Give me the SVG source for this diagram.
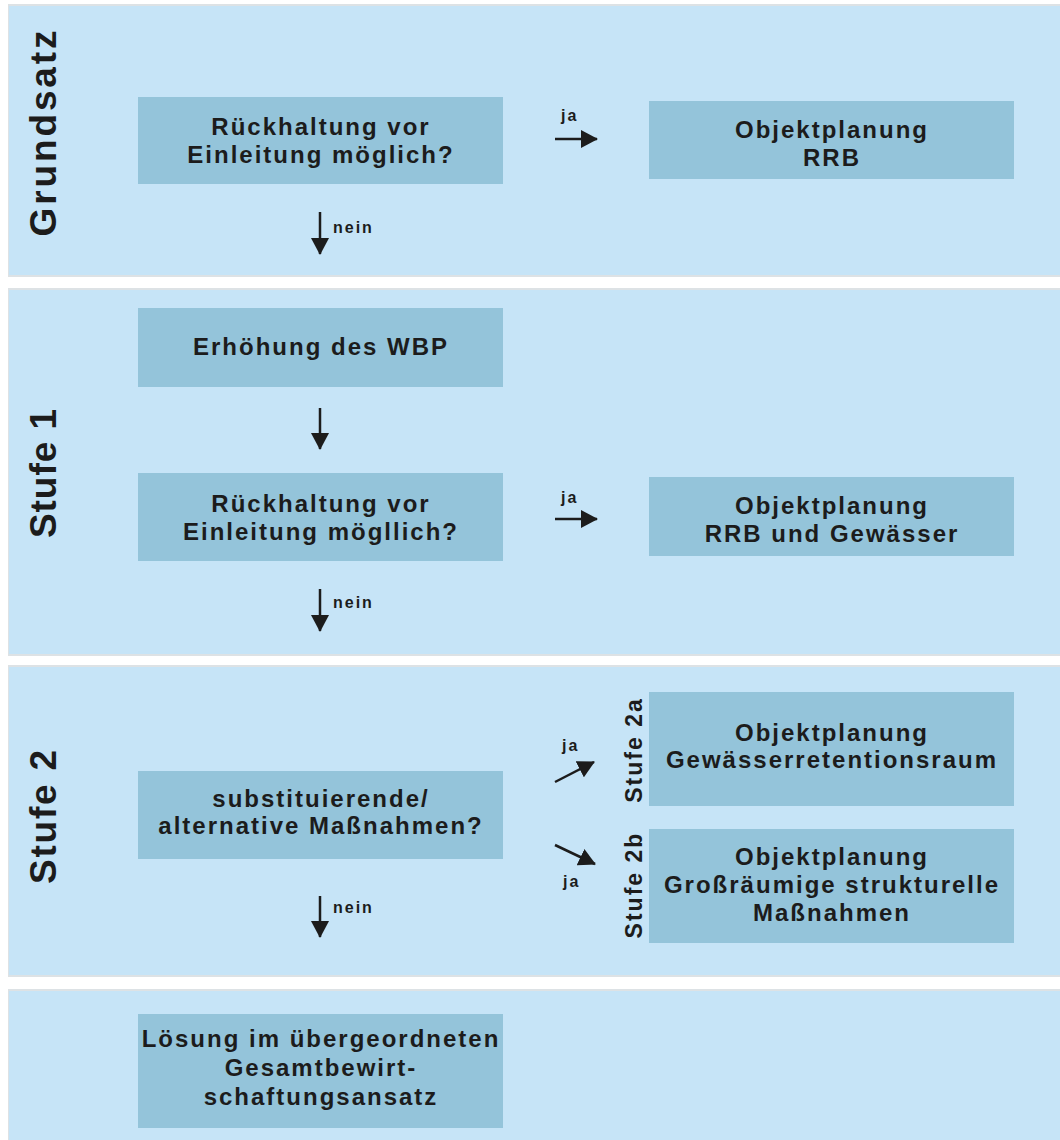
<svg xmlns="http://www.w3.org/2000/svg" width="1060" height="1140" viewBox="0 0 1060 1140">
<defs>
<style>
.panel{fill:#c6e4f7}
.shadow{fill:#dde2e5}
.box{fill:#94c4da}
.t{font-family:"Liberation Sans",Arial,sans-serif;font-weight:bold;font-size:24px;letter-spacing:2px;fill:#1c1c1c;text-anchor:middle}
.side{font-family:"Liberation Sans",Arial,sans-serif;font-weight:bold;font-size:37px;fill:#1c1c1c;text-anchor:middle}
.sub{font-family:"Liberation Sans",Arial,sans-serif;font-weight:bold;font-size:23px;letter-spacing:2px;fill:#1c1c1c;text-anchor:middle}
.lbl{font-family:"Liberation Sans",Arial,sans-serif;font-weight:bold;font-size:16px;letter-spacing:2px;fill:#1c1c1c}
.arr{stroke:#1c1c1c;stroke-width:2.5;fill:none;marker-end:url(#head)}
</style>
<marker id="head" markerUnits="userSpaceOnUse" markerWidth="17" markerHeight="18" refX="16" refY="9" orient="auto">
<path d="M0,0 L17,9 L0,18 Z" fill="#1c1c1c"/>
</marker>
</defs>
<rect width="1060" height="1140" fill="#ffffff"/>

<g id="panels">
<rect class="shadow" x="8" y="4" width="1052" height="273"/>
<rect class="panel" x="9" y="6" width="1051" height="269"/>
<rect class="shadow" x="8" y="288" width="1052" height="368"/>
<rect class="panel" x="9" y="290" width="1051" height="364"/>
<rect class="shadow" x="8" y="665" width="1052" height="312"/>
<rect class="panel" x="9" y="667" width="1051" height="308"/>
<rect class="shadow" x="8" y="989" width="1052" height="151"/>
<rect class="panel" x="9" y="991" width="1051" height="149"/>
</g>

<g id="side-labels">
<text class="side" x="56" y="133.5" transform="rotate(-90 56 133.5)" textLength="206" lengthAdjust="spacing">Grundsatz</text>
<text class="side" x="56" y="473.5" transform="rotate(-90 56 473.5)" textLength="129" lengthAdjust="spacing">Stufe 1</text>
<text class="side" x="56" y="817" transform="rotate(-90 56 817)" textLength="134" lengthAdjust="spacing">Stufe 2</text>
</g>

<g id="n-grundsatz-frage">
<rect class="box" x="138" y="97" width="365" height="87"/>
<text class="t" x="321" y="135">Rückhaltung vor</text>
<text class="t" x="321" y="163">Einleitung möglich?</text>
</g>
<g id="n-grundsatz-rrb">
<rect class="box" x="649" y="101" width="365" height="78"/>
<text class="t" x="832" y="138">Objektplanung</text>
<text class="t" x="832" y="166">RRB</text>
</g>

<g id="n-erhoehung">
<rect class="box" x="138" y="308" width="365" height="79"/>
<text class="t" x="321" y="355">Erhöhung des WBP</text>
</g>
<g id="n-stufe1-frage">
<rect class="box" x="138" y="473" width="365" height="88"/>
<text class="t" x="321" y="512">Rückhaltung vor</text>
<text class="t" x="321" y="540">Einleitung mögllich?</text>
</g>
<g id="n-stufe1-rrb">
<rect class="box" x="649" y="477" width="365" height="79"/>
<text class="t" x="832" y="514">Objektplanung</text>
<text class="t" x="832" y="542">RRB und Gewässer</text>
</g>

<g id="n-stufe2-frage">
<rect class="box" x="138" y="771" width="365" height="88"/>
<text class="t" x="321" y="807">substituierende/</text>
<text class="t" x="321" y="834">alternative Maßnahmen?</text>
</g>
<g id="n-stufe2a">
<rect class="box" x="649" y="692" width="365" height="114"/>
<text class="sub" x="642" y="750" transform="rotate(-90 642 750)">Stufe 2a</text>
<text class="t" x="832" y="741">Objektplanung</text>
<text class="t" x="832" y="768">Gewässerretentionsraum</text>
</g>
<g id="n-stufe2b">
<rect class="box" x="649" y="829" width="365" height="114"/>
<text class="sub" x="642" y="885" transform="rotate(-90 642 885)">Stufe 2b</text>
<text class="t" x="832" y="865">Objektplanung</text>
<text class="t" x="832" y="893">Großräumige strukturelle</text>
<text class="t" x="832" y="921">Maßnahmen</text>
</g>

<g id="n-loesung">
<rect class="box" x="138" y="1014" width="365" height="114"/>
<text class="t" x="321" y="1047">Lösung im übergeordneten</text>
<text class="t" x="321" y="1076">Gesamtbewirt-</text>
<text class="t" x="321" y="1105">schaftungsansatz</text>
</g>

<g id="connectors">
<line class="arr" x1="320" y1="212" x2="320" y2="254"/>
<text class="lbl" x="333" y="233">nein</text>
<line class="arr" x1="555" y1="139" x2="597" y2="139"/>
<text class="lbl" x="561" y="121">ja</text>

<line class="arr" x1="320" y1="408" x2="320" y2="449"/>
<line class="arr" x1="320" y1="589" x2="320" y2="631"/>
<text class="lbl" x="333" y="608">nein</text>
<line class="arr" x1="555" y1="519" x2="597" y2="519"/>
<text class="lbl" x="561" y="503">ja</text>

<line class="arr" x1="555" y1="782" x2="594" y2="762"/>
<text class="lbl" x="562" y="751">ja</text>
<line class="arr" x1="555" y1="845" x2="595" y2="864"/>
<text class="lbl" x="563" y="887">ja</text>
<line class="arr" x1="320" y1="896" x2="320" y2="937"/>
<text class="lbl" x="333" y="913">nein</text>
</g>
</svg>
